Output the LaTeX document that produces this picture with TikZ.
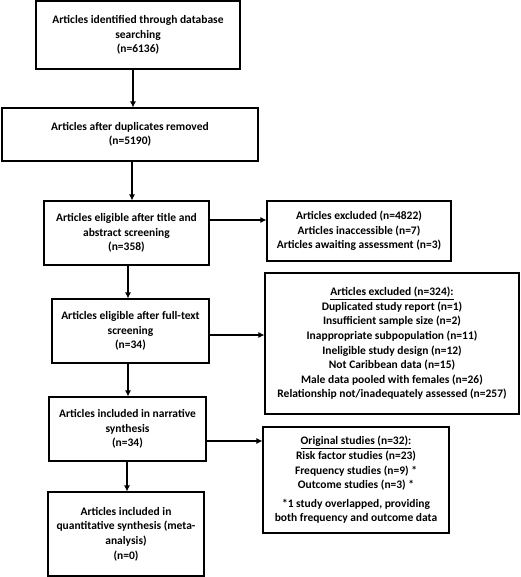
\documentclass[tikz,border=0pt]{standalone}
\usepackage{fontspec}
\setmainfont{Carlito}
\usetikzlibrary{arrows.meta}
\begin{document}
\begin{tikzpicture}[x=1pt,y=-1pt,
  box/.style={draw,line width=1.1pt,align=center,inner sep=0pt,font=\fontsize{11.5}{14.6}\selectfont\bfseries},
  arr/.style={line width=1.1pt,-{Latex[length=6pt,width=6pt]}}]
\useasboundingbox (0,0) rectangle (520,577);
\node[box,minimum width=204,minimum height=68] (b1) at (138,35) {Articles identified through database\\searching\\(n=6136)};
\node[box,minimum width=256,minimum height=53] (b2) at (130,134.5) {Articles after duplicates removed\\(n=5190)};
\node[box,minimum width=165,minimum height=64] (b3) at (126.5,233) {Articles eligible after title and\\abstract screening\\(n=358)};
\node[box,minimum width=157,minimum height=64] (b4) at (130.5,331) {Articles eligible after full-text\\screening\\(n=34)};
\node[box,minimum width=157,minimum height=64] (b5) at (127.5,429) {Articles included in narrative\\synthesis\\(n=34)};
\node[box,minimum width=156,minimum height=84] (b6) at (126,534) {Articles included in\\quantitative synthesis (meta-\\analysis)\\(n=0)};
\node[box,minimum width=184,minimum height=60] (r1) at (359,231) {Articles excluded (n=4822)\\Articles inaccessible (n=7)\\Articles awaiting assessment (n=3)};
\node[box,minimum width=254,minimum height=141] (r2) at (392,343.5) {\underline{Articles excluded (n=324):}\\Duplicated study report (n=1)\\Insufficient sample size (n=2)\\Inappropriate subpopulation (n=11)\\Ineligible study design (n=12)\\Not Caribbean data (n=15)\\Male data pooled with females (n=26)\\Relationship not/inadequately assessed (n=257)};
\node[box,minimum width=186,minimum height=106] (r3) at (356,480) {\underline{Original studies (n=32):}\\Risk factor studies (n=23)\\Frequency studies (n=9) *\\Outcome studies (n=3) *\\[4pt]*1 study overlapped, providing\\both frequency and outcome data};
\coordinate (x1) at (133,0);
\coordinate (x2) at (132,0);
\coordinate (x3) at (128,0);
\coordinate (x4) at (127,0);
\coordinate (y1) at (0,220);
\coordinate (y2) at (0,335);
\coordinate (y3) at (0,441);
\draw[arr] (b1.south -| x1) -- (b2.north -| x1);
\draw[arr] (b2.south -| x2) -- (b3.north -| x2);
\draw[arr] (b3.south -| x3) -- (b4.north -| x3);
\draw[arr] (b4.south -| x3) -- (b5.north -| x3);
\draw[arr] (b5.south -| x4) -- (b6.north -| x4);
\draw[arr] (b3.east |- y1) -- (r1.west |- y1);
\draw[arr] (b4.east |- y2) -- (r2.west |- y2);
\draw[arr] (b5.east |- y3) -- (r3.west |- y3);
\end{tikzpicture}
\end{document}
